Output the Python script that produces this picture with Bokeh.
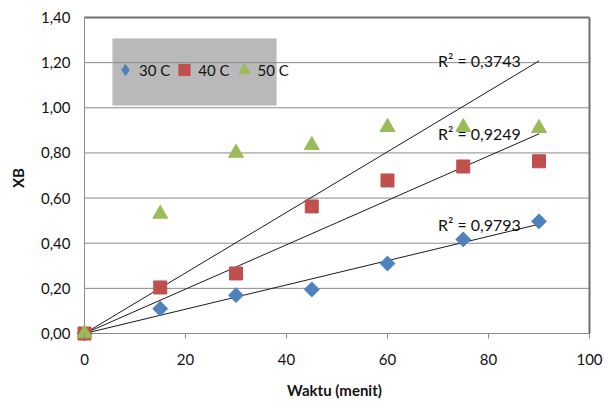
import numpy as np
from bokeh.plotting import figure
from bokeh.models import (Legend, LegendItem, FixedTicker, BoxAnnotation,
                          ColumnDataSource, LabelSet, Range1d)
from bokeh.core.properties import value
from bokeh.embed import file_html
from bokeh.resources import INLINE

# Conversion XB versus time (minutes) at three temperatures
waktu = [0, 15, 30, 45, 60, 75, 90]
xb_30 = [0.0, 0.11, 0.17, 0.195, 0.31, 0.417, 0.497]
xb_40 = [0.0, 0.204, 0.266, 0.563, 0.678, 0.74, 0.763]
xb_50 = [0.0, 0.53, 0.80, 0.834, 0.914, 0.914, 0.91]
series_names = ["30 C", "40 C", "50 C"]
r2_texts = ["R\u00b2 = 0,9793", "R\u00b2 = 0,9249", "R\u00b2 = 0,3743"]

x_ticks = [0, 20, 40, 60, 80, 100]
y_ticks = [0.0, 0.2, 0.4, 0.6, 0.8, 1.0, 1.2, 1.4]
y_tick_labels = ["0,00", "0,20", "0,40", "0,60", "0,80", "1,00", "1,20", "1,40"]

FONT = "Lato"
X_MIN, X_MAX = 0, 100
Y_MIN, Y_MAX = 0.0, 1.4

# The frame is padded a few pixels beyond the axes so that markers sitting
# on the origin are drawn whole instead of being clipped; the axis lines
# themselves are drawn at the origin.
PX_X = 505 / (X_MAX - X_MIN)
PX_Y = 316 / (Y_MAX - Y_MIN)
PAD_L, PAD_R, PAD_T, PAD_B = 8, 3, 3, 8

p = figure(width=613, height=401,
           x_range=Range1d(X_MIN - PAD_L / PX_X, X_MAX + PAD_R / PX_X),
           y_range=Range1d(Y_MIN - PAD_B / PX_Y, Y_MAX + PAD_T / PX_Y),
           output_backend="svg", toolbar_location=None,
           min_border_left=84 - PAD_L, min_border_right=613 - 589 - PAD_R,
           min_border_top=17 - PAD_T, min_border_bottom=401 - 333 - PAD_B)
p.background_fill_color = "white"
p.border_fill_color = "white"
p.outline_line_color = None
p.grid.visible = False

p.xaxis.ticker = FixedTicker(ticks=x_ticks)
p.yaxis.ticker = FixedTicker(ticks=y_ticks)
p.yaxis.major_label_overrides = {t: s for t, s in zip(y_ticks, y_tick_labels)}
for ax in (p.xaxis[0], p.yaxis[0]):
    ax.axis_line_color = None
    ax.major_tick_line_color = "#8a8a8a"
    ax.minor_tick_line_color = None
    ax.major_label_text_font = FONT
    ax.major_label_text_font_size = "15px"
    ax.major_label_text_color = "#111111"
    ax.axis_label_text_font = FONT
    ax.axis_label_text_font_size = "15px"
    ax.axis_label_text_font_style = "bold"
    ax.axis_label_text_color = "#111111"
# x ticks hang 5px below the origin line
p.xaxis.major_tick_in = PAD_B
p.xaxis.major_tick_out = 5 - PAD_B
p.xaxis.major_label_standoff = 12
p.xaxis.axis_label = "Waktu (menit)"
p.xaxis.axis_label_standoff = 13
p.yaxis.major_tick_line_color = None
p.yaxis.major_tick_in = 0
p.yaxis.major_tick_out = 0
p.yaxis.major_label_standoff = 14 - PAD_L
p.yaxis.axis_label = "XB"
p.yaxis.axis_label_standoff = 11

# legend backdrop
p.add_layout(BoxAnnotation(left=112, right=276, top=38, bottom=105,
                           left_units="canvas", right_units="canvas",
                           top_units="canvas", bottom_units="canvas",
                           fill_color="#b9b9b9", fill_alpha=1.0,
                           line_color="#d0d0d0", line_width=1,
                           level="image"))

# horizontal gridlines, axis lines and the top/right frame
grid_y = y_ticks[1:-1]
p.segment(x0=[X_MIN] * len(grid_y), y0=grid_y, x1=[X_MAX] * len(grid_y), y1=grid_y,
          line_color="#8a8a8a", line_width=1)
p.segment(x0=[X_MIN, X_MIN], y0=[Y_MIN, Y_MIN], x1=[X_MAX, X_MIN], y1=[Y_MIN, Y_MAX],
          line_color="#8a8a8a", line_width=1)
p.segment(x0=[X_MIN, X_MAX], y0=[Y_MAX, Y_MIN], x1=[X_MAX, X_MAX], y1=[Y_MAX, Y_MAX],
          line_color="#6e6e6e", line_width=2)

colors = ["#4f81bd", "#c0504d", "#9bbb59"]
series = [xb_30, xb_40, xb_50]

# linear trendlines forced through the origin
xs = np.array(waktu, dtype=float)
fit_ends = []
for ys in series:
    slope = float(np.sum(xs * np.array(ys)) / np.sum(xs * xs))
    fit_ends.append(slope * xs.max())
    p.line(x=[0, xs.max()], y=[0, slope * xs.max()],
           line_color="#1a1a1a", line_width=1)

# markers
r_30 = p.scatter(x=waktu, y=xb_30, marker="square", angle=np.pi / 4, size=10.5,
                 fill_color=colors[0], line_color=colors[0])
r_40 = p.scatter(x=waktu, y=xb_40, marker="square", size=13,
                 fill_color=colors[1], line_color=colors[1])
r_50 = p.scatter(x=waktu, y=xb_50, marker="triangle", size=15,
                 fill_color=colors[2], line_color=colors[2])
# diamond swatch used by the legend entry of the 30 C series
r_30_key = p.scatter(x=waktu, y=xb_30, marker="diamond", size=10,
                     fill_color=colors[0], line_color=colors[0], visible=False)

# R² annotations next to each trendline
lab_src = ColumnDataSource(dict(x=[70, 70, 70], y=fit_ends, text=r2_texts))
p.add_layout(LabelSet(x="x", y="y", text="text", source=lab_src,
                      text_font=value(FONT), text_font_size="16px",
                      text_color="#111111", text_align="left",
                      text_baseline="middle"))

legend = Legend(items=[LegendItem(label=series_names[0], renderers=[r_30_key]),
                       LegendItem(label=series_names[1], renderers=[r_40]),
                       LegendItem(label=series_names[2], renderers=[r_50])],
                orientation="horizontal", location=(27 + PAD_L, 248 + PAD_B),
                padding=0, margin=0, spacing=-1, label_standoff=-4,
                glyph_width=28, glyph_height=31,
                background_fill_alpha=0, border_line_color=None,
                label_text_font=FONT, label_text_font_size="15px",
                label_text_color="#111111")
p.add_layout(legend)

open("out.html", "w").write(file_html(p, INLINE))
